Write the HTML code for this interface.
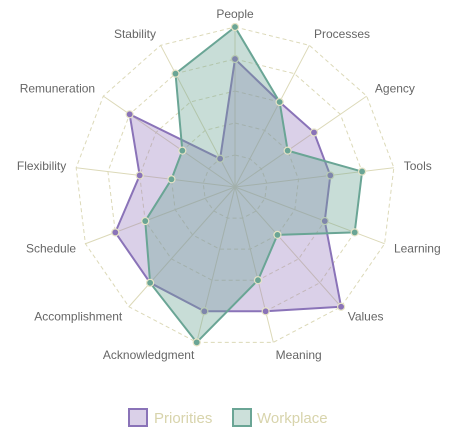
<!DOCTYPE html>
<html><head><meta charset="utf-8"><style>
html,body{margin:0;padding:0;background:#fff;}
svg{display:block;font-family:"Liberation Sans",sans-serif;}
</style></head><body>
<svg id="chart" width="451" height="432">
<g id="grid"></g>
<g id="series"></g>
<g id="labels"></g>
<g>
  <g>
    <rect x="129" y="409" width="18" height="17" fill="rgba(150,120,190,0.35)" stroke="#8a73b8" stroke-width="2"/>
    <text x="154" y="423" font-size="15" fill="#d8d4ac">Priorities</text>
  </g>
  <g>
    <rect x="233" y="409" width="18" height="17" fill="rgba(110,165,150,0.35)" stroke="#6aa595" stroke-width="2"/>
    <text x="257" y="423" font-size="15" fill="#d8d4ac">Workplace</text>
  </g>
</g>
</svg>
<script>
const categories = ["People","Processes","Agency","Tools","Learning","Values","Meaning","Acknowledgment","Accomplishment","Schedule","Flexibility","Remuneration","Stability"];
const priorities = [4,3,3,3,3,5,4,4,4,4,3,4,1];
const workplace = [5,3,2,4,4,2,3,5,4,3,2,2,4];
const levels = [1,2,3,4,5];
const maxValue = 5;

const NS = "http://www.w3.org/2000/svg";
const cx = 235, cy = 187, R = 160;
const n = categories.length;
function ang(i){ return i * 2 * Math.PI / n; }
function pt(i, v){ const r = v / maxValue * R; return [cx + r * Math.sin(ang(i)), cy - r * Math.cos(ang(i))]; }
function mk(tag, attrs, parent){ const e = document.createElementNS(NS, tag); for (const k in attrs) e.setAttribute(k, attrs[k]); parent.appendChild(e); return e; }

const grid = document.getElementById("grid");
levels.forEach(l => {
  const p = categories.map((c,i) => pt(i,l).join(",")).join(" ");
  const el = mk("polygon", {points:p, fill:"none", stroke:"#dcd9b8", "stroke-dasharray":"4,3", "stroke-width":1}, grid);
  
  
});
categories.forEach((c,i) => {
  const [x,y] = pt(i, maxValue);
  const el = mk("line", {x1:cx, y1:cy, x2:x, y2:y, stroke:"#dcd9b8", "stroke-width":1}, grid);
  
  
});

const seriesG = document.getElementById("series");
function drawSeries(vals, fill, stroke, name){
  const p = vals.map((v,i) => pt(i,v).join(",")).join(" ");
  const poly = mk("polygon", {points:p, fill:fill, stroke:stroke, "stroke-width":2, "stroke-linejoin":"round"}, seriesG);
  
  
  vals.forEach((v,i) => {
    const [x,y] = pt(i,v);
    const c = mk("circle", {cx:x, cy:y, r:3.5, fill:stroke, stroke:"#e6e3c6", "stroke-width":1.2}, seriesG);
    
    
  });
}
drawSeries(priorities, "rgba(150,120,190,0.35)", "#8a73b8", "priorities");
drawSeries(workplace, "rgba(110,165,150,0.38)", "#6aa595", "workplace");

const labels = document.getElementById("labels");
categories.forEach((c,i) => {
  const a = ang(i);
  const r = 170;
  const x = cx + r * Math.sin(a), y = cy - r * Math.cos(a);
  const dx = Math.sin(a), dy = -Math.cos(a);
  const anchor = dx > 0.1 ? "start" : (dx < -0.1 ? "end" : "middle");
  const t = mk("text", {x:x, y:y + 4 + dy*3, "text-anchor":anchor, "font-size":12, fill:"#666"}, labels);
  t.textContent = c;
  
  
});
</script>
</body></html>
